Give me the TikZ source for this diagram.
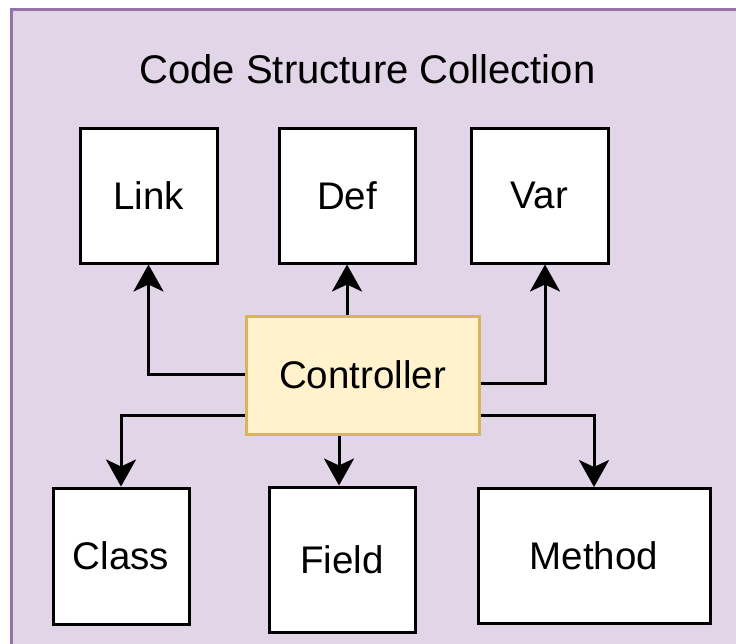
\documentclass[tikz,border=0pt]{standalone}
\usepackage{fontspec}
\setmainfont{Liberation Sans}
\usetikzlibrary{arrows.meta}
\definecolor{framefill}{HTML}{E1D5E7}
\definecolor{frameborder}{HTML}{9673A6}
\definecolor{ctrlfill}{HTML}{FFF2CC}
\definecolor{ctrlborder}{HTML}{D6B656}
\tikzset{
  box/.style={draw=black, fill=white, line width=3pt, rectangle, inner sep=0pt,
    font=\fontsize{38.5}{46}\selectfont},
  ctrlbox/.style={draw=ctrlborder, fill=ctrlfill, line width=3pt, rectangle, inner sep=0pt,
    font=\fontsize{38.5}{46}\selectfont},
  arr/.style={draw=black, line width=3pt, -{Stealth[length=27pt, width=30pt, inset=7pt]}},
}
\begin{document}
\begin{tikzpicture}[x=1pt, y=-1pt]
\useasboundingbox (0,0) rectangle (736,643);
\clip (0,0) rectangle (736,643);
\fill[white] (0,0) rectangle (736,643);
\draw[draw=frameborder, fill=framefill, line width=3pt] (11,9) rectangle (760,670);
\node[anchor=base, font=\fontsize{40}{48}\selectfont] (title) at (367.5,83) {Code Structure Collection};
\node[box, minimum width=137pt, minimum height=135pt] (link) at (148.5,195.5) {Link};
\node[box, minimum width=136pt, minimum height=135pt] (def) at (347,195.5) {Def};
\node[box, minimum width=137pt, minimum height=135pt] (var) at (539.5,195.5) {Var};
\node[ctrlbox, minimum width=233pt, minimum height=118pt] (ctrl) at (362.5,375) {Controller};
\node[box, minimum width=136pt, minimum height=136pt] (class) at (121,556) {Class};
\node[box, minimum width=146pt, minimum height=145pt] (field) at (342,559.5) {Field};
\node[box, minimum width=232pt, minimum height=135pt] (method) at (594,556) {Method};
\draw[arr] ([yshift=1pt]ctrl.west) -| (link.south);
\draw[arr] (def.south |- ctrl.north) -- (def.south);
\draw[arr] ([yshift=-8pt]ctrl.east) -| ([xshift=5.5pt]var.south);
\draw[arr] ([yshift=-40.5pt]ctrl.west) -| (class.north);
\draw[arr] ([xshift=-3pt]field.north |- ctrl.south) -- ([xshift=-3pt]field.north);
\draw[arr] ([yshift=-40.5pt]ctrl.east) -| (method.north);
\end{tikzpicture}
\end{document}
